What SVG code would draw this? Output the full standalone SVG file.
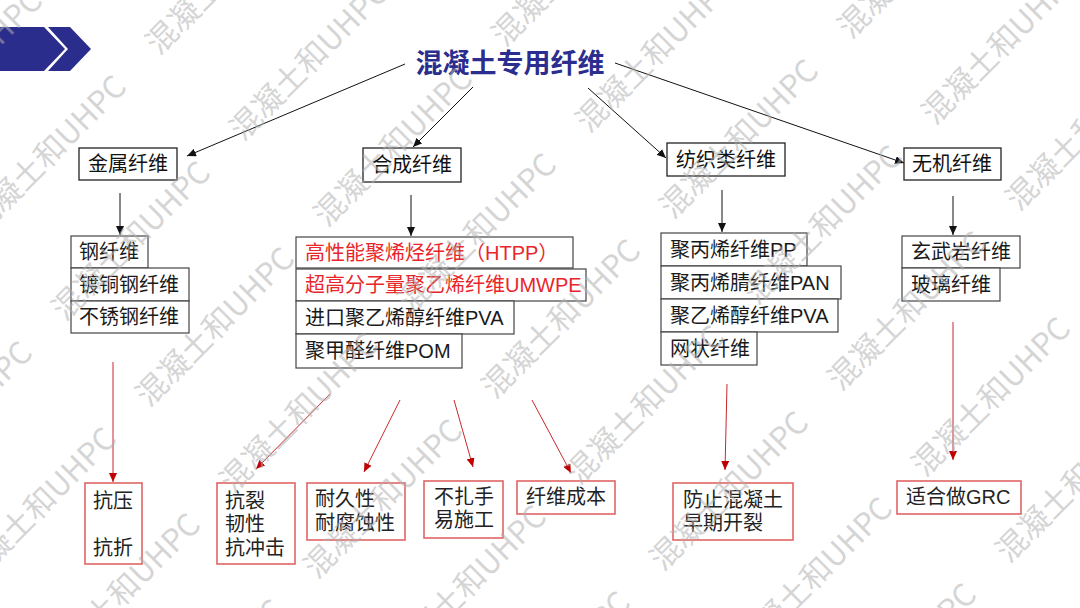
<svg xmlns="http://www.w3.org/2000/svg" xmlns:xlink="http://www.w3.org/1999/xlink" width="1080" height="608" viewBox="0 0 1080 608">
<style>
.bg{fill:#ffffff}
.box1{fill:#ffffff;stroke:#222;stroke-width:1.3}
.box2{fill:#ffffff;stroke:#444;stroke-width:1.2}
.box3{fill:#ffffff;stroke:#e06464;stroke-width:1.6}
.t1{font-family:"Noto Sans CJK SC",sans-serif;font-size:20px;fill:#111;text-anchor:middle}
.t2{font-family:"Liberation Sans","Noto Sans CJK SC",sans-serif;font-size:20px;fill:#1a1a1a}
.red{fill:#e8262a}
.t3{font-family:"Liberation Sans","Noto Sans CJK SC",sans-serif;font-size:20px;fill:#222}
.title{font-family:"Noto Sans CJK SC",sans-serif;font-size:27px;font-weight:bold;fill:#2b2e8e;text-anchor:middle}
.blk{stroke:#111;stroke-width:1;fill:none;marker-end:url(#ab)}
.rd{stroke:#c8282d;stroke-width:1;fill:none;marker-end:url(#ar)}
.wm{font-family:"Noto Sans CJK SC",sans-serif;font-size:31px;fill:#b0b0b0;fill-opacity:0.55}
</style>
<defs>
<marker id="ab" markerUnits="userSpaceOnUse" markerWidth="9" markerHeight="8" refX="9" refY="4" orient="auto"><path d="M0,0 L9,4 L0,8 z" fill="#111"/></marker>
<marker id="ar" markerUnits="userSpaceOnUse" markerWidth="9" markerHeight="8" refX="9" refY="4" orient="auto"><path d="M0,0 L9,4 L0,8 z" fill="#c00000"/></marker>
<text id="wm" class="wm" transform="rotate(-45)">混凝土和UHPC</text>
</defs>
<rect class="bg" x="0" y="0" width="1080" height="608"/>
<g id="header">
<polygon points="0,27 44,27 65,49 44,71 0,71" fill="#2a2d8c"/>
<polygon points="48,27 70,27 91,49 70,71 48,71 68,49" fill="#2a2d8c"/>
</g>
<g id="title"><text class="title" x="510" y="73">混凝土专用纤维</text></g>
<g id="connectors">
<line class="blk" x1="405" y1="64" x2="187" y2="156"/>
<line class="blk" x1="473" y1="87" x2="413" y2="147"/>
<line class="blk" x1="588" y1="88" x2="666" y2="158"/>
<line class="blk" x1="615" y1="63" x2="904" y2="163"/>
<line class="blk" x1="120" y1="193" x2="120" y2="235"/>
<line class="blk" x1="411" y1="195" x2="411" y2="236"/>
<line class="blk" x1="722" y1="190" x2="722" y2="232"/>
<line class="blk" x1="953" y1="196" x2="953" y2="235"/>
<line class="rd" x1="113" y1="362" x2="113" y2="482"/>
<line class="rd" x1="330" y1="394" x2="256" y2="469"/>
<line class="rd" x1="400" y1="400" x2="364" y2="472"/>
<line class="rd" x1="454" y1="400" x2="473" y2="467"/>
<line class="rd" x1="532" y1="400" x2="571" y2="473"/>
<line class="rd" x1="727" y1="384" x2="725" y2="470"/>
<line class="rd" x1="953" y1="322" x2="953" y2="460"/>
</g>
<g id="metal">
<rect class="box1" x="79" y="148" width="98" height="32"/>
<text class="t1" x="128" y="171">金属纤维</text>
</g>
<g id="synthetic">
<rect class="box1" x="363" y="148" width="98" height="34"/>
<text class="t1" x="412" y="172">合成纤维</text>
</g>
<g id="textile">
<rect class="box1" x="667" y="143" width="118" height="33"/>
<text class="t1" x="726" y="167">纺织类纤维</text>
</g>
<g id="inorganic">
<rect class="box1" x="904" y="148" width="97" height="32"/>
<text class="t1" x="952" y="171">无机纤维</text>
</g>
<g id="metal-list">
<rect class="box2" x="71" y="236" width="77" height="32"/>
<text class="t2" x="79" y="259">钢纤维</text>
<rect class="box2" x="71" y="268" width="118" height="33"/>
<text class="t2" x="79" y="292">镀铜钢纤维</text>
<rect class="box2" x="71" y="301" width="118" height="32"/>
<text class="t2" x="79" y="324">不锈钢纤维</text>
</g>
<g id="synthetic-list">
<rect class="box2" x="296" y="237" width="277" height="31"/>
<text class="t2 red" x="305" y="260">高性能聚烯烃纤维（HTPP）</text>
<rect class="box2" x="296" y="269" width="290" height="32"/>
<text class="t2 red" x="305" y="292">超高分子量聚乙烯纤维UMWPE</text>
<rect class="box2" x="296" y="301" width="218" height="33"/>
<text class="t2" x="305" y="325">进口聚乙烯醇纤维PVA</text>
<rect class="box2" x="296" y="334" width="166" height="34"/>
<text class="t2" x="305" y="358">聚甲醛纤维POM</text>
</g>
<g id="textile-list">
<rect class="box2" x="661" y="233" width="146" height="33"/>
<text class="t2" x="670" y="257">聚丙烯纤维PP</text>
<rect class="box2" x="661" y="266" width="180" height="33"/>
<text class="t2" x="670" y="290">聚丙烯腈纤维PAN</text>
<rect class="box2" x="661" y="299" width="177" height="33"/>
<text class="t2" x="670" y="323">聚乙烯醇纤维PVA</text>
<rect class="box2" x="661" y="332" width="96" height="33"/>
<text class="t2" x="670" y="356">网状纤维</text>
</g>
<g id="inorganic-list">
<rect class="box2" x="902" y="236" width="118" height="32"/>
<text class="t2" x="911" y="259">玄武岩纤维</text>
<rect class="box2" x="902" y="268" width="98" height="33"/>
<text class="t2" x="911" y="292">玻璃纤维</text>
</g>
<g id="r-metal">
<rect class="box3" x="85" y="483" width="57" height="81"/>
<text class="t3" x="93" y="508">抗压</text>
<text class="t3" x="93" y="555">抗折</text>
</g>
<g id="r-crack">
<rect class="box3" x="217" y="483" width="78" height="81"/>
<text class="t3" x="225" y="508">抗裂</text>
<text class="t3" x="225" y="531">韧性</text>
<text class="t3" x="225" y="555">抗冲击</text>
</g>
<g id="r-durable">
<rect class="box3" x="307" y="483" width="98" height="57"/>
<text class="t3" x="315" y="506">耐久性</text>
<text class="t3" x="315" y="530">耐腐蚀性</text>
</g>
<g id="r-handle">
<rect class="box3" x="424" y="481" width="79" height="57"/>
<text class="t3" x="434" y="504">不扎手</text>
<text class="t3" x="434" y="527">易施工</text>
</g>
<g id="r-cost">
<rect class="box3" x="517" y="481" width="98" height="33"/>
<text class="t3" x="526" y="504">纤维成本</text>
</g>
<g id="r-early">
<rect class="box3" x="673" y="483" width="120" height="57"/>
<text class="t3" x="683" y="507">防止混凝土</text>
<text class="t3" x="683" y="530">早期开裂</text>
</g>
<g id="r-grc">
<rect class="box3" x="897" y="481" width="124" height="33"/>
<text class="t3" x="906" y="504">适合做GRC</text>
</g>
<g id="watermark">
<use xlink:href="#wm" x="-103" y="150"/>
<use xlink:href="#wm" x="-19" y="236"/>
<use xlink:href="#wm" x="159" y="56"/>
<use xlink:href="#wm" x="-113" y="502"/>
<use xlink:href="#wm" x="65" y="322"/>
<use xlink:href="#wm" x="243" y="142"/>
<use xlink:href="#wm" x="-29" y="588"/>
<use xlink:href="#wm" x="149" y="408"/>
<use xlink:href="#wm" x="327" y="228"/>
<use xlink:href="#wm" x="505" y="48"/>
<use xlink:href="#wm" x="55" y="674"/>
<use xlink:href="#wm" x="233" y="494"/>
<use xlink:href="#wm" x="411" y="314"/>
<use xlink:href="#wm" x="589" y="134"/>
<use xlink:href="#wm" x="139" y="760"/>
<use xlink:href="#wm" x="317" y="580"/>
<use xlink:href="#wm" x="495" y="400"/>
<use xlink:href="#wm" x="673" y="220"/>
<use xlink:href="#wm" x="851" y="40"/>
<use xlink:href="#wm" x="401" y="666"/>
<use xlink:href="#wm" x="579" y="486"/>
<use xlink:href="#wm" x="757" y="306"/>
<use xlink:href="#wm" x="935" y="126"/>
<use xlink:href="#wm" x="485" y="752"/>
<use xlink:href="#wm" x="663" y="572"/>
<use xlink:href="#wm" x="841" y="392"/>
<use xlink:href="#wm" x="1019" y="212"/>
<use xlink:href="#wm" x="747" y="658"/>
<use xlink:href="#wm" x="925" y="478"/>
<use xlink:href="#wm" x="831" y="744"/>
<use xlink:href="#wm" x="1009" y="564"/>
</g>
</svg>
